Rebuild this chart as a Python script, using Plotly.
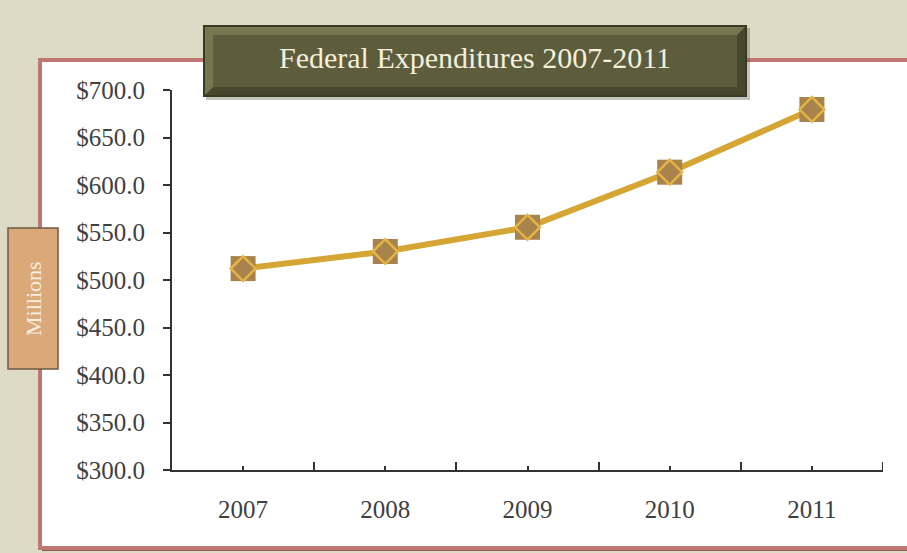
import plotly.graph_objects as go

# Federal expenditures, in millions of dollars
years = ["2007", "2008", "2009", "2010", "2011"]
spending = [512.0, 530.0, 555.5, 613.5, 679.5]

W, H = 907, 553
# plot area in pixels
PL, PR, PT, PB = 172, 883, 90, 470


def px(x):
    return (x - PL) / (PR - PL)


def py(y):
    return (PB - y) / (PB - PT)


def rect(x0, y0, x1, y1, **kw):
    return dict(type="rect", xref="paper", yref="paper",
                x0=px(x0), x1=px(x1), y0=py(y1), y1=py(y0), **kw)


def poly(points, **kw):
    d = "M " + " L ".join(f"{px(a)},{py(b)}" for a, b in points) + " Z"
    return dict(type="path", xref="paper", yref="paper", path=d, **kw)


idx = list(range(len(years)))
x_end = len(years) - 0.5

fig = go.Figure()
fig.add_trace(go.Scatter(
    x=idx, y=spending, mode="lines+markers",
    line=dict(color="#d6a635", width=6),
    marker=dict(symbol="square", size=25, color="#a9834c",
                line=dict(width=0)),
    hoverinfo="skip", showlegend=False, cliponaxis=False,
))
fig.add_trace(go.Scatter(
    x=idx, y=spending, mode="markers",
    marker=dict(symbol="diamond-open", size=19, color="#e3b446",
                line=dict(width=2.5)),
    hoverinfo="skip", showlegend=False, cliponaxis=False,
))

shapes = [
    # white panel with rose border and a soft shadow
    rect(42, 62, 912, 551, fillcolor="#8f5a58", line=dict(width=0), layer="below"),
    rect(40, 60, 910, 548, fillcolor="#ffffff",
         line=dict(color="#bf7776", width=4), layer="below"),
    # closing boundary tick at the right end of the category axis
    dict(type="line", xref="x", yref="paper", x0=x_end, x1=x_end,
         y0=0, y1=8 / (PB - PT), line=dict(color="#333333", width=2)),
    # "Millions" label box
    rect(8, 228, 58, 369, fillcolor="#dba977",
         line=dict(color="#6b5a44", width=1.5), layer="above"),
    # title plaque: shadow, frame, bevel and face
    rect(206, 28, 750, 100, fillcolor="rgba(60,60,40,0.3)",
         line=dict(width=0), layer="above"),
    rect(203, 25, 747, 97, fillcolor="#3b3b24",
         line=dict(width=0), layer="above"),
    rect(205, 27, 745, 95, fillcolor="#77774f",
         line=dict(width=0), layer="above"),
    poly([(205, 95), (745, 95), (745, 27), (737, 35), (737, 87), (213, 87)],
         fillcolor="#47472d", line=dict(width=0), layer="above"),
    rect(213, 35, 737, 87, fillcolor="#5d5d3d",
         line=dict(width=0), layer="above"),
]

annotations = [
    dict(text="Federal Expenditures 2007-2011", xref="paper", yref="paper",
         x=px(475), y=py(57), showarrow=False, xanchor="center", yanchor="middle",
         font=dict(family="Liberation Serif", size=30, color="#f3efdc")),
    dict(text="Millions", xref="paper", yref="paper", textangle=-90,
         x=px(33), y=py(299), showarrow=False, xanchor="center", yanchor="middle",
         font=dict(family="Liberation Serif", size=22, color="#f7eee2")),
]

fig.update_layout(
    width=W, height=H,
    margin=dict(l=PL, r=W - PR, t=PT, b=H - PB),
    paper_bgcolor="#dddbc6",
    plot_bgcolor="rgba(0,0,0,0)",
    shapes=shapes,
    annotations=annotations,
    showlegend=False,
)

fig.update_xaxes(
    range=[-0.5, x_end],
    tickmode="array", tickvals=idx, ticktext=years,
    ticks="inside", ticklen=4, tickwidth=2, tickcolor="#333333",
    minor=dict(tickmode="array",
               tickvals=[i + 0.5 for i in idx],
               ticks="inside", ticklen=8, tickwidth=2, tickcolor="#333333"),
    showline=True, linecolor="#333333", linewidth=2,
    showgrid=False, zeroline=False,
    ticklabelstandoff=16,
    tickfont=dict(family="Liberation Serif", size=25, color="#404040"),
)

fig.update_yaxes(
    range=[300, 700], dtick=50, tick0=300,
    tickprefix="$", tickformat=".1f",
    ticks="outside", ticklen=7, tickwidth=2, tickcolor="#333333",
    showline=True, linecolor="#333333", linewidth=2,
    showgrid=False, zeroline=False,
    ticklabelstandoff=13,
    tickfont=dict(family="Liberation Serif", size=25, color="#404040"),
)

fig.write_html("out.html")
